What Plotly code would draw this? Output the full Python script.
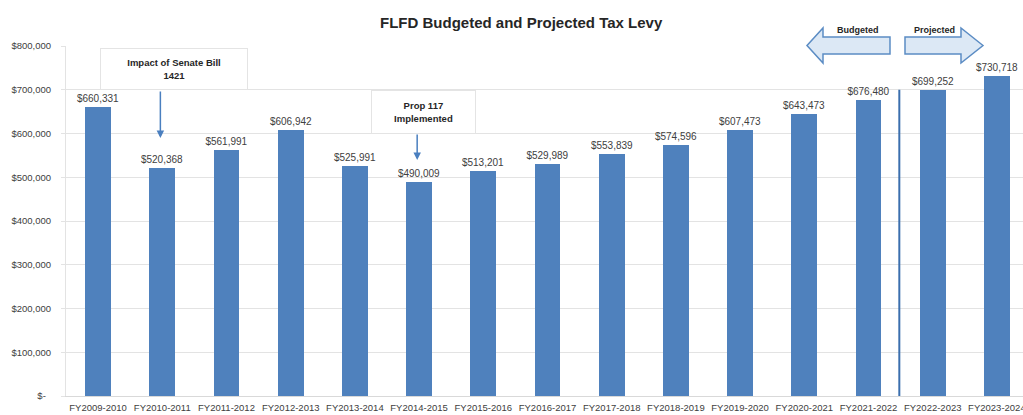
import plotly.graph_objects as go

categories = ["FY2009-2010", "FY2010-2011", "FY2011-2012", "FY2012-2013", "FY2013-2014",
              "FY2014-2015", "FY2015-2016", "FY2016-2017", "FY2017-2018", "FY2018-2019",
              "FY2019-2020", "FY2020-2021", "FY2021-2022", "FY2022-2023", "FY2023-2024"]
levy = [660331, 520368, 561991, 606942, 525991, 490009, 513201, 529989, 553839, 574596,
        607473, 643473, 676480, 699252, 730718]
ytick_vals = [0, 100000, 200000, 300000, 400000, 500000, 600000, 700000, 800000]
ytick_text = ["$-\u00a0\u00a0", "$100,000", "$200,000", "$300,000", "$400,000",
              "$500,000", "$600,000", "$700,000", "$800,000"]

W, H = 1023, 415
L, R, T, B = 66, 0, 46, 19
PW, PH = W - L - R, H - T - B

def X(px):
    return (px - L) / PW

def Y(py):
    return (H - B - py) / PH

FONT = "Liberation Sans, Arial, sans-serif"
BAR = "#4F81BD"

idx = list(range(len(categories)))
labels = ["${:,}".format(v) for v in levy]

fig = go.Figure()
fig.add_trace(go.Bar(
    x=idx, y=levy, width=0.4, marker=dict(color=BAR, line=dict(width=0)),
    text=labels, textposition="outside", cliponaxis=False, constraintext="none",
    textfont=dict(family=FONT, size=10, color="#404040"),
    hoverinfo="skip",
))

shapes = []
# divider between budgeted and projected
shapes.append(dict(type="line", xref="x", yref="y", x0=12.48, x1=12.48, y0=0, y1=700000,
                   line=dict(color="#3b6fae", width=2)))

def pts_path(pts):
    s = "M " + " L ".join("{:.5f},{:.5f}".format(X(a), Y(b)) for a, b in pts) + " Z"
    return s

left_arrow = [(807, 45.5), (823, 28), (823, 37), (890, 37), (890, 54), (823, 54), (823, 63)]
right_arrow = [(983, 45.5), (961, 28), (961, 37), (905, 37), (905, 54), (961, 54), (961, 63)]
for pts in (left_arrow, right_arrow):
    shapes.append(dict(type="path", xref="paper", yref="paper", path=pts_path(pts),
                       fillcolor="#dce8f5", line=dict(color="#5b8cc4", width=1.5), layer="above"))

annotations = []

def note(text, px, py, size, **kw):
    d = dict(text=text, xref="paper", yref="paper", x=X(px), y=Y(py), showarrow=False,
             xanchor="center", yanchor="middle", font=dict(family=FONT, size=size, color="#262626"))
    d.update(kw)
    annotations.append(d)

note("<b>FLFD Budgeted and Projected Tax Levy</b>", 521, 22, 15)
note("<b>Budgeted</b>", 858, 30, 9)
note("<b>Projected</b>", 934, 30, 9)
note("<b>Impact of Senate Bill</b><br><b>1421</b>", 174, 69, 9.5, width=144, height=38,
     bordercolor="#e4e4e4", borderwidth=1, bgcolor="rgba(255,255,255,0.9)")
note("<b>Prop 117</b><br><b>Implemented</b>", 423, 112, 9.5, width=101, height=40,
     bordercolor="#e4e4e4", borderwidth=1, bgcolor="rgba(255,255,255,0.9)")

# pointer arrows
for xi, tip, tail in ((1, 589714, 699428), (5, 539428, 601143)):
    annotations.append(dict(text="", x=xi - 0.03, y=tip, ax=xi - 0.03, ay=tail, xref="x", yref="y",
                            axref="x", ayref="y", showarrow=True, arrowhead=2, arrowsize=1,
                            arrowwidth=1.5, arrowcolor="#4a7fbf"))

fig.update_layout(
    width=W, height=H, margin=dict(l=L, r=R, t=T, b=B, pad=0, autoexpand=False),
    paper_bgcolor="white", plot_bgcolor="white", showlegend=False,
    shapes=shapes, annotations=annotations, bargap=0,
    font=dict(family=FONT, size=10, color="#404040"),
)
fig.update_xaxes(range=[-0.5, -0.5 + PW / 64.2], tickvals=idx, ticktext=categories,
                 showgrid=False, zeroline=False, showline=True, linecolor="#d9d9d9", linewidth=1,
                 ticks="", tickfont=dict(family=FONT, size=9.5, color="#404040"), fixedrange=True,
                 automargin=False, ticklabeloverflow="allow", ticklabelstandoff=3)
fig.update_yaxes(range=[0, 800000], tickvals=ytick_vals, ticktext=ytick_text, showgrid=True,
                 gridcolor="#e3e3e3", gridwidth=1, zeroline=False, showline=True, linecolor="#e3e3e3",
                 ticks="outside", ticklen=4, tickcolor="#e3e3e3", ticklabelstandoff=8,
                 tickfont=dict(family=FONT, size=9.5, color="#404040"), automargin=False)

fig.write_html("out.html", config={"displayModeBar": False},
               post_script="document.body.style.margin='0';document.body.style.overflow='hidden';")
